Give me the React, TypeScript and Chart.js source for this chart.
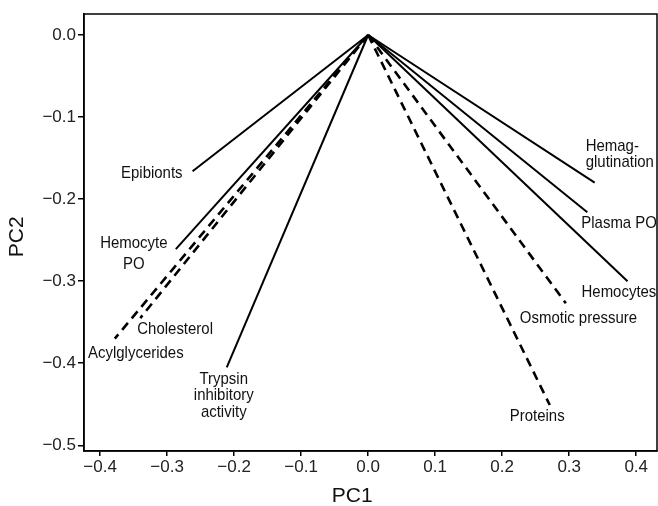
import React, { useEffect, useRef } from "react";
import { Chart, registerables } from "chart.js";

Chart.register(...registerables);

// ---- data ----
const VARIABLES = [
  "Epibionts",
  "Hemocyte PO",
  "Cholesterol",
  "Acylglycerides",
  "Trypsin inhibitory activity",
  "Hemagglutination",
  "Plasma PO",
  "Hemocytes",
  "Osmotic pressure",
  "Proteins",
];
const PC1_LOADINGS = [-0.262, -0.287, -0.34, -0.378, -0.211, 0.338, 0.327, 0.387, 0.295, 0.271];
const PC2_LOADINGS = [-0.166, -0.261, -0.345, -0.37, -0.405, -0.18, -0.216, -0.3, -0.327, -0.451];
const DASHED = [false, false, true, true, false, false, false, false, true, true];
const X_TICKS = [-0.4, -0.3, -0.2, -0.1, 0.0, 0.1, 0.2, 0.3, 0.4];
const Y_TICKS = [0.0, -0.1, -0.2, -0.3, -0.4, -0.5];
const X_TITLE = "PC1";
const Y_TITLE = "PC2";

// ---- label layout (pixel offsets from line end, styles) ----
type LabelLayout = { lines: string[]; dx: number; dy: number; align: CanvasTextAlign; lh: number };
const LABEL_LAYOUT: LabelLayout[] = [
  { lines: ["Epibionts"], dx: -10, dy: 2, align: "right", lh: 16 },
  { lines: ["Hemocyte", "PO"], dx: -42, dy: -6, align: "center", lh: 21 },
  { lines: ["Cholesterol"], dx: -3, dy: 11, align: "left", lh: 16 },
  { lines: ["Acylglycerides"], dx: 21, dy: 15, align: "center", lh: 16 },
  { lines: ["Trypsin", "inhibitory", "activity"], dx: -3, dy: 12, align: "center", lh: 16.5 },
  { lines: ["Hemag-", "glutination"], dx: -9, dy: -36, align: "left", lh: 16 },
  { lines: ["Plasma PO"], dx: -6, dy: 11, align: "left", lh: 16 },
  { lines: ["Hemocytes"], dx: -46, dy: 11, align: "left", lh: 16 },
  { lines: ["Osmotic pressure"], dx: -46, dy: 15, align: "left", lh: 16 },
  { lines: ["Proteins"], dx: -40, dy: 11, align: "left", lh: 16 },
];

const FONT_FAMILY = "'Liberation Sans', Arial, Helvetica, sans-serif";
const fmt = (v: number) => (v < 0 ? "\u2212" + Math.abs(v).toFixed(1) : v.toFixed(1));

const labelsPlugin = {
  id: "biplotLabels",
  afterDatasetsDraw(chart: any) {
    const ctx: CanvasRenderingContext2D = chart.ctx;
    ctx.save();
    ctx.fillStyle = "#111";
    ctx.font = `17px ${FONT_FAMILY}`;
    ctx.textBaseline = "middle";
    const sx = 0.88;
    chart.data.datasets.forEach((_: any, i: number) => {
      const meta = chart.getDatasetMeta(i);
      const pt = meta.data[1];
      if (!pt) return;
      const L = LABEL_LAYOUT[i];
      L.lines.forEach((line, j) => {
        const x = pt.x + L.dx;
        const y = pt.y + L.dy + j * L.lh;
        ctx.save();
        ctx.translate(x, y);
        ctx.scale(sx, 1);
        ctx.textAlign = L.align;
        ctx.fillText(line, 0, 0);
        ctx.restore();
      });
    });
    ctx.restore();
  },
  afterDraw(chart: any) {
    const ctx: CanvasRenderingContext2D = chart.ctx;
    const a = chart.chartArea;
    ctx.save();
    ctx.strokeStyle = "#000";
    ctx.lineWidth = 1.5;
    ctx.strokeRect(a.left, a.top, a.right - a.left, a.bottom - a.top);
    ctx.fillStyle = "#111";
    ctx.font = `21px ${FONT_FAMILY}`;
    ctx.textAlign = "center";
    ctx.textBaseline = "middle";
    ctx.fillText(X_TITLE, a.left + (a.right - a.left) * 0.468, 496);
    ctx.translate(17, a.top + (a.bottom - a.top) * 0.51);
    ctx.rotate(-Math.PI / 2);
    ctx.fillText(Y_TITLE, 0, 0);
    ctx.restore();
  },
};

export default function App() {
  const ref = useRef<HTMLCanvasElement | null>(null);
  useEffect(() => {
    document.body.style.margin = "0";
    const canvas = ref.current!;
    const datasets = VARIABLES.map((name, i) => ({
      label: name,
      data: [
        { x: 0, y: 0 },
        { x: PC1_LOADINGS[i], y: PC2_LOADINGS[i] },
      ],
      showLine: true,
      borderColor: "#000",
      backgroundColor: "#000",
      borderWidth: DASHED[i] ? 2.6 : 2,
      borderDash: DASHED[i] ? [9, 6] : [],
      pointRadius: 0,
      pointHoverRadius: 0,
      fill: false,
    }));
    const tickFont = { size: 17, family: FONT_FAMILY };
    const chart = new Chart(canvas, {
      type: "scatter",
      data: { datasets },
      plugins: [labelsPlugin],
      options: {
        responsive: false,
        animation: false,
        devicePixelRatio: 1,
        layout: { padding: { top: 14, right: 1, left: 0, bottom: 0 } },
        plugins: { legend: { display: false }, tooltip: { enabled: false } },
        scales: {
          x: {
            type: "linear",
            min: -0.424,
            max: 0.431,
            afterBuildTicks: (s: any) => {
              s.ticks = X_TICKS.map((v) => ({ value: v }));
            },
            afterFit: (s: any) => {
              s.height = 55;
            },
            ticks: {
              color: "#222",
              font: tickFont,
              padding: 1,
              maxRotation: 0,
              autoSkip: false,
              callback: (v: any) => fmt(Number(v)),
            },
            grid: { display: true, drawOnChartArea: false, drawTicks: true, tickLength: 5, color: "#000", lineWidth: 1.5 },
            border: { display: true, color: "#000", width: 1.5 },
          },
          y: {
            type: "linear",
            min: -0.507,
            max: 0.0256,
            afterBuildTicks: (s: any) => {
              s.ticks = Y_TICKS.map((v) => ({ value: v }));
            },
            afterFit: (s: any) => {
              s.width = 84;
            },
            ticks: {
              color: "#222",
              font: tickFont,
              padding: 2,
              autoSkip: false,
              callback: (v: any) => fmt(Number(v)),
            },
            grid: { display: true, drawOnChartArea: false, drawTicks: true, tickLength: 6, color: "#000", lineWidth: 1.5 },
            border: { display: true, color: "#000", width: 1.5 },
          },
        },
      },
    } as any);
    return () => chart.destroy();
  }, []);
  return (
    <div style={{ position: "absolute", left: 0, top: 0, width: 658, height: 506, background: "#fff" }}>
      <canvas ref={ref} width={658} height={506} style={{ display: "block" }} />
    </div>
  );
}
